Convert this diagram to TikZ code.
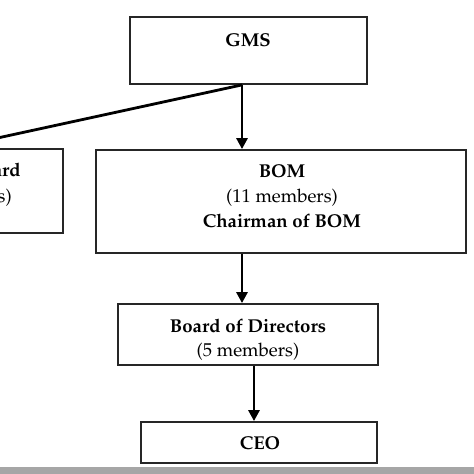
\documentclass[tikz,border=0pt]{standalone}
\usepackage[T1]{fontenc}
\usepackage{mathpazo}
\usetikzlibrary{arrows.meta}
\begin{document}
\begin{tikzpicture}[x=1pt,y=-1pt,
  box/.style={draw=black!85, line width=1.8pt, inner sep=0pt},
  arr/.style={line width=2.8pt, -{Triangle[length=11pt,width=11pt]}},
  lbl/.style={anchor=base, inner sep=0pt, font=\fontsize{18.6}{25}\selectfont},
  lblb/.style={lbl, font=\fontsize{18.6}{25}\selectfont\bfseries},
]
\useasboundingbox (0,0) rectangle (474,474);
\clip (0,0) rectangle (474,474);
\fill[white] (0,0) rectangle (474,474);
\fill[black!35] (0,467) rectangle (474,474);

% boxes
\node[box, minimum width=237pt, minimum height=67pt] (GMS) at (248.5,50.5) {};
\node[box, minimum width=224pt, minimum height=84pt] (SB) at (-49,191) {};
\node[box, minimum width=370pt, minimum height=103pt] (BOM) at (281,201.5) {};
\node[box, minimum width=260pt, minimum height=61pt] (BOD) at (248,334.5) {};
\node[box, minimum width=236pt, minimum height=41pt] (CEO) at (259,442.5) {};

% texts
\node[lblb] (tGMS) at (248,46) {GMS};
\node[lblb, anchor=base east] (tSB1) at (21,176) {ard};
\node[lbl, anchor=base east] (tSB2) at (12,202) {s)};
\node[lblb] (tBOM1) at (282,177) {BOM};
\node[lbl] (tBOM2) at (282,202.5) {(11 members)};
\node[lblb] (tBOM3) at (282,227) {Chairman of BOM};
\node[lblb] (tBOD1) at (248,332) {Board of Directors};
\node[lbl] (tBOD2) at (248,356) {(5 members)};
\node[lblb] (tCEO) at (260,449) {CEO};

% connectors
\coordinate (c1) at (242,0);
\coordinate (c2) at (254,0);
\draw[arr] (GMS.south -| c1) -- (BOM.north -| c1);
\draw[arr] (GMS.south -| c1) -- (SB.north);
\draw[arr] (BOM.south -| c1) -- (BOD.north -| c1);
\draw[arr] (BOD.south -| c2) -- (CEO.north -| c2);
\end{tikzpicture}
\end{document}
